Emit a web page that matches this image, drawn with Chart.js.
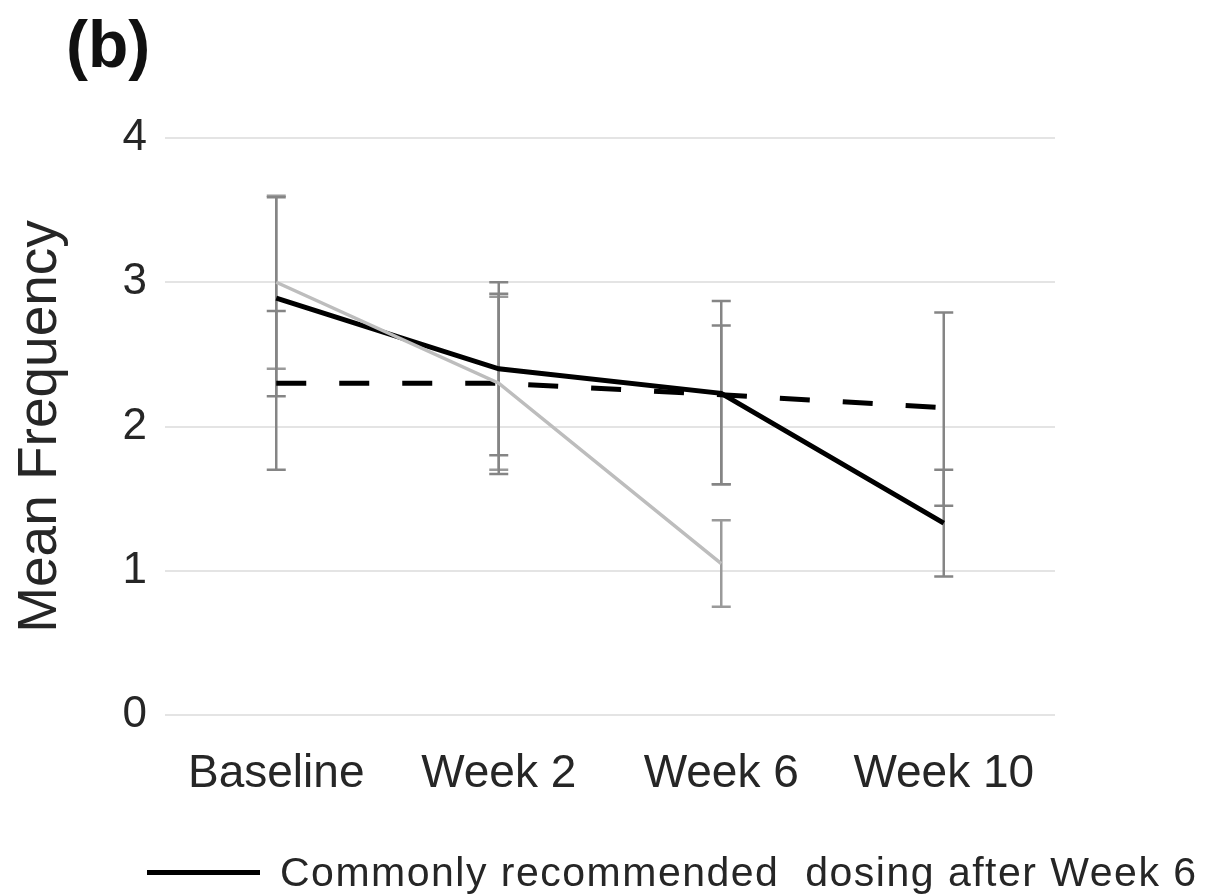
<!DOCTYPE html>
<html>
<head>
<meta charset="utf-8">
<script src="https://cdn.jsdelivr.net/npm/chart.js@4.4.1/dist/chart.umd.min.js"></script>
<style>
  body { margin: 0; background: #fff; }
  #wrap { position: relative; width: 1212px; height: 894px; font-family: "Liberation Sans", Arial, sans-serif; color: #262626; }
  #panel { position: absolute; left: 66px; top: 6px; font-size: 66px; font-weight: bold; line-height: normal; color: #111; }
  #legend { position: absolute; left: 147px; top: 848px; font-size: 41px; letter-spacing: 1.5px; line-height: 48px; white-space: pre; display: flex; align-items: center; }
  #legend .swatch { display: inline-block; width: 113px; height: 5px; background: #000; margin-right: 20px; }
</style>
</head>
<body>
<div id="wrap">
  <canvas id="chart" width="1212" height="894"></canvas>
  <div id="panel">(b)</div>
  <div id="legend"><span class="swatch"></span><span>Commonly recommended  dosing after Week 6</span></div>
</div>
<script>
// x categories
const labels = ['Baseline', 'Week 2', 'Week 6', 'Week 10'];

// commonly recommended dosing after week 6 (black solid)
const recommended = [2.89, 2.40, 2.23, 1.33];
const recommendedLow = [2.21, 1.80, 1.60, 0.96];
const recommendedHigh = [3.59, 3.00, 2.87, 1.70];

// light grey series (stops at week 6)
const greySeries = [3.00, 2.30, 1.05, null];
const greyLow = [2.40, 1.70, 0.75, null];
const greyHigh = [3.60, 2.90, 1.35, null];

// dashed series
const dashedSeries = [2.30, 2.30, 2.22, 2.13];
const dashedLow = [1.70, 1.67, 1.60, 1.45];
const dashedHigh = [2.80, 2.92, 2.70, 2.79];

const yTicks = [0, 1, 2, 3, 4];

// error bars drawn behind the lines, using the chart scales
const errorBars = {
    id: 'errorBars',
    beforeDatasetsDraw(chart) {
        const ctx = chart.ctx;
        const x = chart.scales.x, y = chart.scales.y;
        chart.data.datasets.forEach(ds => {
            if (!ds.errLow) return;
            ctx.save();
            ctx.strokeStyle = ds.errColor;
            ctx.lineWidth = 2.5;
            ds.errLow.forEach((lo, i) => {
                const hi = ds.errHigh[i];
                if (lo == null || hi == null) return;
                const px = x.getPixelForValue(i);
                const pLo = y.getPixelForValue(lo);
                const pHi = y.getPixelForValue(hi);
                const cap = 9.5;
                ctx.beginPath();
                ctx.moveTo(px, pLo); ctx.lineTo(px, pHi);
                ctx.moveTo(px - cap, pLo); ctx.lineTo(px + cap, pLo);
                ctx.moveTo(px - cap, pHi); ctx.lineTo(px + cap, pHi);
                ctx.stroke();
            });
            ctx.restore();
        });
    }
};

const fontFamily = '"Liberation Sans", Arial, sans-serif';

new Chart(document.getElementById('chart'), {
    type: 'line',
    data: {
        labels: labels,
        datasets: [
            {
                label: 'Grey',
                data: greySeries,
                errLow: greyLow, errHigh: greyHigh, errColor: '#9a9a9a',
                borderColor: '#bdbdbd', borderWidth: 3.5,
                pointRadius: 0, tension: 0, spanGaps: false
            },
            {
                label: 'Dashed',
                data: dashedSeries,
                errLow: dashedLow, errHigh: dashedHigh, errColor: '#858585',
                borderColor: '#000', borderWidth: 5, borderDash: [30, 33],
                pointRadius: 0, tension: 0
            },
            {
                label: 'Commonly recommended  dosing after Week 6',
                data: recommended,
                errLow: recommendedLow, errHigh: recommendedHigh, errColor: '#858585',
                borderColor: '#000', borderWidth: 5,
                pointRadius: 0, tension: 0
            }
        ]
    },
    options: {
        responsive: false,
        animation: false,
        layout: { padding: { top: 138, right: 157, bottom: 0, left: 0 } },
        plugins: {
            legend: { display: false },
            title: { display: false },
            tooltip: { enabled: false }
        },
        scales: {
            x: {
                offset: true,
                grid: { display: false },
                border: { display: false },
                ticks: { color: '#262626', padding: 24, font: { family: fontFamily, size: 46 } },
                afterFit: s => { s.height = 179; }
            },
            y: {
                min: 0, max: 4,
                afterBuildTicks: s => { s.ticks = yTicks.map(v => ({ value: v })); },
                grid: { color: '#e4e4e4', lineWidth: 2, drawTicks: false },
                border: { display: false },
                ticks: { color: '#262626', padding: 18, font: { family: fontFamily, size: 44 } },
                title: {
                    display: true, text: 'Mean Frequency', color: '#262626',
                    font: { family: fontFamily, size: 55 }, padding: { top: 8, bottom: 0 }
                },
                afterFit: s => { s.width = 165; }
            }
        }
    },
    plugins: [errorBars]
});
</script>
</body>
</html>
